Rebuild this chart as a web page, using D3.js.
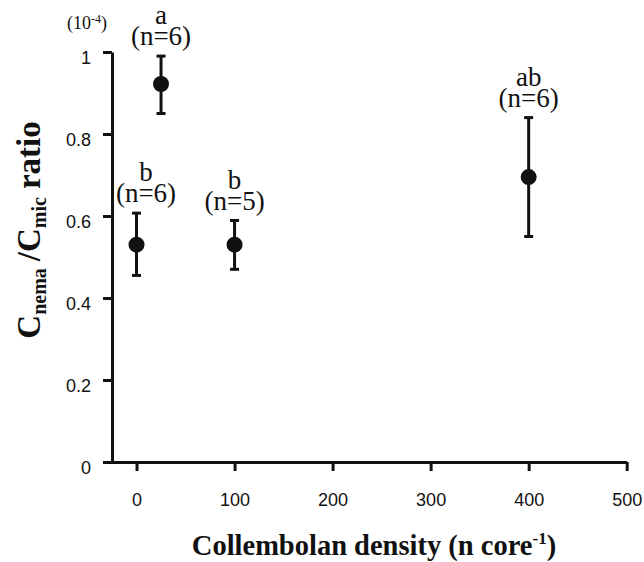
<!DOCTYPE html>
<html>
<head>
<meta charset="utf-8">
<script src="https://cdn.jsdelivr.net/npm/d3@7"></script>
<style>
  body { margin: 0; background: #fff; }
  .tick text { font-family: "Liberation Sans", Arial, sans-serif; font-size: 18px; fill: #111; }
</style>
</head>
<body>
<div id="chart"></div>
<script>
// Data (ratio in units of 10^-4)
const density = [0, 25, 100, 400];
const ratio = [0.53, 0.922, 0.53, 0.695];
const errLow = [0.455, 0.85, 0.47, 0.55];
const errHigh = [0.607, 0.99, 0.589, 0.84];
const letters = ["b", "a", "b", "ab"];
const nLabels = ["(n=6)", "(n=6)", "(n=5)", "(n=6)"];
const xTicks = [0, 100, 200, 300, 400, 500];
const yTicks = [0, 0.2, 0.4, 0.6, 0.8, 1];

const width = 644, height = 562;
const ink = "#111";
const serif = "'Liberation Serif', 'Times New Roman', serif";

const svg = d3.select("#chart")
  .append("svg")
  .attr("width", width)
  .attr("height", height);

const x = d3.scaleLinear().domain([-34.5, 500]).range([102.7, 626.7]);
const y = d3.scaleLinear().domain([0, 1]).range([462, 52]);
const yAxisX = x(-25);

// x axis
const xAxis = svg.append("g")
  .attr("transform", `translate(0, ${y(0)})`)
  .call(d3.axisBottom(x).tickValues(xTicks).tickSizeInner(9).tickSizeOuter(0).tickPadding(22));

// y axis
const yAxis = svg.append("g")
  .attr("transform", `translate(${yAxisX}, 0)`)
  .call(d3.axisLeft(y).tickValues(yTicks).tickSizeInner(9).tickSizeOuter(0).tickPadding(12)
    .tickFormat(d => d3.format("~g")(d)));

[xAxis, yAxis].forEach(g => {
  g.select(".domain").attr("stroke", ink).attr("stroke-width", 3);
  g.selectAll(".tick line").attr("stroke", ink).attr("stroke-width", 3);
});
yAxis.selectAll(".tick text").attr("dy", "0.65em");

// error bars
const pts = density.map((d, i) => ({ d, v: ratio[i], lo: errLow[i], hi: errHigh[i], letter: letters[i], n: nLabels[i] }));

const bars = svg.append("g").selectAll("g").data(pts).join("g");
bars.append("line")
  .attr("x1", p => x(p.d)).attr("x2", p => x(p.d))
  .attr("y1", p => y(p.lo)).attr("y2", p => y(p.hi))
  .attr("stroke", ink).attr("stroke-width", 3);
bars.selectAll("line.cap")
  .data(p => [[p.d, p.lo], [p.d, p.hi]])
  .join("line")
  .attr("class", "cap")
  .attr("x1", c => x(c[0]) - 4.5).attr("x2", c => x(c[0]) + 4.5)
  .attr("y1", c => y(c[1])).attr("y2", c => y(c[1]))
  .attr("stroke", ink).attr("stroke-width", 3);
bars.append("circle")
  .attr("cx", p => x(p.d)).attr("cy", p => y(p.v))
  .attr("r", 8).attr("fill", ink);

// significance letters and sample sizes
const labelX = p => Math.max(x(p.d), yAxisX + 34);
const labels = svg.append("g")
  .attr("font-family", serif)
  .attr("font-size", 27)
  .attr("fill", ink)
  .attr("text-anchor", "middle");
labels.selectAll("text.n").data(pts).join("text")
  .attr("class", "n")
  .attr("x", labelX).attr("y", p => y(p.hi) - 11)
  .text(p => p.n);
labels.selectAll("text.l").data(pts).join("text")
  .attr("class", "l")
  .attr("x", labelX).attr("y", p => y(p.hi) - 32)
  .text(p => p.letter);

// unit marker
const unit = svg.append("text")
  .attr("x", 87).attr("y", 29)
  .attr("text-anchor", "middle")
  .attr("font-family", serif)
  .attr("font-size", 18)
  .attr("fill", ink);
unit.append("tspan").text("(10");
unit.append("tspan").attr("dy", -6).attr("font-size", 12).text("-4");
unit.append("tspan").attr("dy", 6).text(")");

// x title
const xTitle = svg.append("text")
  .attr("x", 374).attr("y", 555)
  .attr("text-anchor", "middle")
  .attr("font-family", serif)
  .attr("font-weight", "bold")
  .attr("font-size", 28.5)
  .attr("fill", ink);
xTitle.append("tspan").text("Collembolan density (n core");
xTitle.append("tspan").attr("dy", -11).attr("font-size", 17).text("-1");
xTitle.append("tspan").attr("dy", 11).text(")");

// y title
const yTitle = svg.append("text")
  .attr("transform", `translate(40, 230) rotate(-90)`)
  .attr("text-anchor", "middle")
  .attr("font-family", serif)
  .attr("font-weight", "bold")
  .attr("font-size", 33)
  .attr("fill", ink);
yTitle.append("tspan").text("C");
yTitle.append("tspan").attr("dy", 6).attr("font-size", 20).text("nema");
yTitle.append("tspan").attr("dy", -6).attr("dx", 7).text("/C");
yTitle.append("tspan").attr("dy", 6).attr("font-size", 20).text("mic");
yTitle.append("tspan").attr("dy", -6).attr("dx", 8).text("ratio");
</script>
</body>
</html>
